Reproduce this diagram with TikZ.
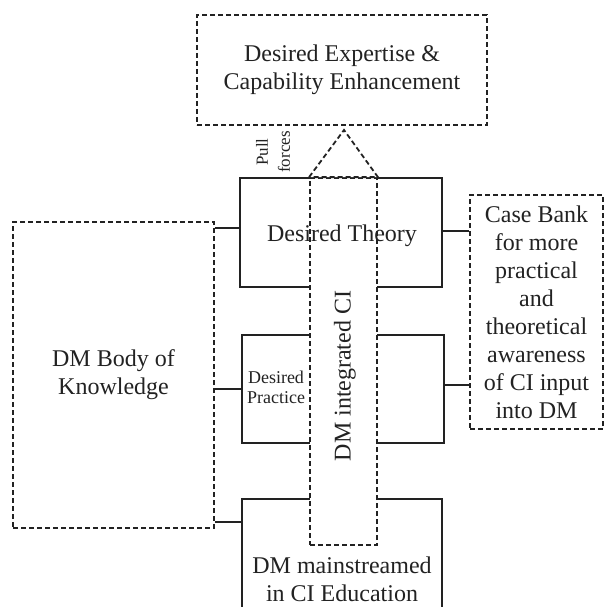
\documentclass[tikz,border=0pt]{standalone}
\usepackage{fontspec}
\setmainfont{Liberation Serif}
\usetikzlibrary{
    calc,
    positioning
}

\definecolor{inkgrey}{HTML}{222222}

\begin{document}
\begin{tikzpicture}[
    x=1pt, y=-1pt,
    solidbox/.style={
      draw=inkgrey,
      line width=1.3pt,
      inner sep=0pt
    },
    dashbox/.style={
      draw=inkgrey,
      line width=1.8pt,
      dash pattern=on 5pt off 3pt,
      inner sep=0pt
    },
    bigtext/.style={
      text=inkgrey,
      align=center,
      font=\fontsize{24}{28}\selectfont
    },
    smalltext/.style={
      text=inkgrey,
      align=center,
      font=\fontsize{18}{20}\selectfont
    },
    link/.style={
      draw=inkgrey,
      line width=1.3pt
    }
  ]

  \clip (0,0) rectangle (606,607);

  % goal box {{{
  \node[
    dashbox,
    minimum width=290pt,
    minimum height=110pt
  ] (expertise) at (342,70) {};
  \node[bigtext] at (expertise.center)
  {Desired Expertise \&\\Capability Enhancement};
  % }}}

  % solid boxes {{{
  \node[
    solidbox,
    minimum width=202pt,
    minimum height=109pt
  ] (theory) at (341,232.5) {};
  \node[
    solidbox,
    minimum width=202pt,
    minimum height=108pt
  ] (practice) at (343,389) {};
  \node[
    solidbox,
    minimum width=200pt,
    minimum height=141pt
  ] (mainstream) at (342,569.5) {};
  % }}}

  % side boxes {{{
  \node[
    dashbox,
    minimum width=201pt,
    minimum height=306pt
  ] (body) at (113.5,375) {};
  \node[bigtext] at (body.center) {DM Body of\\Knowledge};

  \node[
    dashbox,
    minimum width=133pt,
    minimum height=234pt
  ] (casebank) at (536.5,312) {};
  \node[bigtext] at (casebank.center)
  {Case Bank\\for more\\practical\\and\\theoretical\\awareness\\of CI input\\into DM};
  % }}}

  % links {{{
  \draw[link] (body.east |- 0,228) -- (theory.west |- 0,228);
  \draw[link] (body.east |- 0,389) -- (practice.west |- 0,389);
  \draw[link] (body.east |- 0,522) -- (mainstream.west |- 0,522);
  \draw[link] (theory.east |- 0,231) -- (casebank.west |- 0,231);
  \draw[link] (practice.east |- 0,385) -- (casebank.west |- 0,385);
  % }}}

  % CI arrow {{{
  \node[
    dashbox,
    fill=white,
    minimum width=67pt,
    minimum height=367pt
  ] (ci) at (343.5,361.5) {};
  \coordinate (tip) at (344,130);
  \draw[dashbox, fill=white] (ci.north west) -- (tip) -- (ci.north east) -- cycle;
  \node[bigtext, rotate=90] at (345,376) {DM integrated CI};
  % }}}

  % box texts {{{
  \node[bigtext] at (342,236) {Desired Theory};
  \node[smalltext] at (276,387) {Desired\\Practice};
  \node[bigtext] at (342,579) {DM mainstreamed\\in CI Education};
  \node[
    text=inkgrey,
    align=center,
    rotate=90,
    font=\fontsize{17}{22}\selectfont
  ] (pull) at (273,152) {Pull\\forces};
  % }}}

\end{tikzpicture}
\end{document}
